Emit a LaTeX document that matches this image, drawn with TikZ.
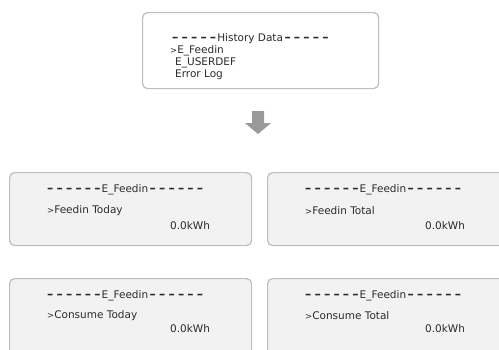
\documentclass[tikz,border=0pt]{standalone}
\usepackage{fontspec}
\setmainfont{DejaVu Sans}
\newcommand\hy{{\fontsize{12.5}{12}\selectfont\textbf{–}}}
\newcommand\hh{\hy\kern3.2pt}
\newcommand\gt{{\fontsize{8.5}{10}\selectfont>}}
\definecolor{panelfill}{HTML}{F2F2F2}
\definecolor{panelline}{HTML}{BDBDBD}
\definecolor{arrowgray}{HTML}{999999}
\definecolor{txt}{HTML}{2B2B2B}
\begin{document}
\begin{tikzpicture}[x=1pt,y=1pt,
  panel/.style={draw=panelline, line width=1.2pt, rounded corners=5pt, fill=panelfill, anchor=north west, inner sep=0pt},
  toppanel/.style={panel, fill=white},
  lbl/.style={anchor=west, inner sep=0pt, text=txt, font=\fontsize{10.5}{12}\selectfont}]
\useasboundingbox (0,0) rectangle (499,-349);
\clip (0,0) rectangle (499,-349);
% top panel
\node[toppanel, minimum width=236pt, minimum height=76pt] (top) at (142,-12) {};
\node[lbl] (th) at (172,-39) {\hh\hh\hh\hh\hy\kern1pt History Data\kern1.5pt\hh\hh\hh\hh\hy};
\node[lbl] (t1) at (170,-51) {\gt E\_Feedin};
\node[lbl] (t2) at (175,-63) {E\_USERDEF};
\node[lbl] (t3) at (175,-75) {Error Log};
% arrow
\coordinate (ac) at (258,-111);
\fill[arrowgray] ([xshift=-6pt]ac) -- ([xshift=6pt]ac) -- ([xshift=6pt,yshift=-12pt]ac) -- ([xshift=13pt,yshift=-12pt]ac)
  -- ([yshift=-23pt]ac) -- ([xshift=-13pt,yshift=-12pt]ac) -- ([xshift=-6pt,yshift=-12pt]ac) -- cycle;
% row 1
\node[panel, minimum width=242pt, minimum height=73pt] (p1) at (9,-172) {};
\node[lbl] (p1h) at (47,-190) {\hh\hh\hh\hh\hh\hy\kern1pt E\_Feedin\kern1.5pt\hh\hh\hh\hh\hh\hy};
\node[lbl] (p1a) at (47,-211) {\gt Feedin Today};
\node[lbl] (p1b) at (170,-226) {0.0kWh};
\node[panel, minimum width=250pt, minimum height=73pt] (p2) at (267,-172) {};
\node[lbl] (p2h) at (305,-190) {\hh\hh\hh\hh\hh\hy\kern1pt E\_Feedin\kern1.5pt\hh\hh\hh\hh\hh\hy};
\node[lbl] (p2a) at (305,-211) {\gt Feedin Total};
\node[lbl] (p2b) at (425,-226) {0.0kWh};
% row 2
\node[panel, minimum width=242pt, minimum height=90pt] (p3) at (9,-278) {};
\node[lbl] (p3h) at (47,-296) {\hh\hh\hh\hh\hh\hy\kern1pt E\_Feedin\kern1.5pt\hh\hh\hh\hh\hh\hy};
\node[lbl] (p3a) at (47,-316) {\gt Consume Today};
\node[lbl] (p3b) at (170,-329) {0.0kWh};
\node[panel, minimum width=250pt, minimum height=90pt] (p4) at (267,-278) {};
\node[lbl] (p4h) at (305,-296) {\hh\hh\hh\hh\hh\hy\kern1pt E\_Feedin\kern1.5pt\hh\hh\hh\hh\hh\hy};
\node[lbl] (p4a) at (305,-316) {\gt Consume Total};
\node[lbl] (p4b) at (425,-329) {0.0kWh};
\end{tikzpicture}
\end{document}
